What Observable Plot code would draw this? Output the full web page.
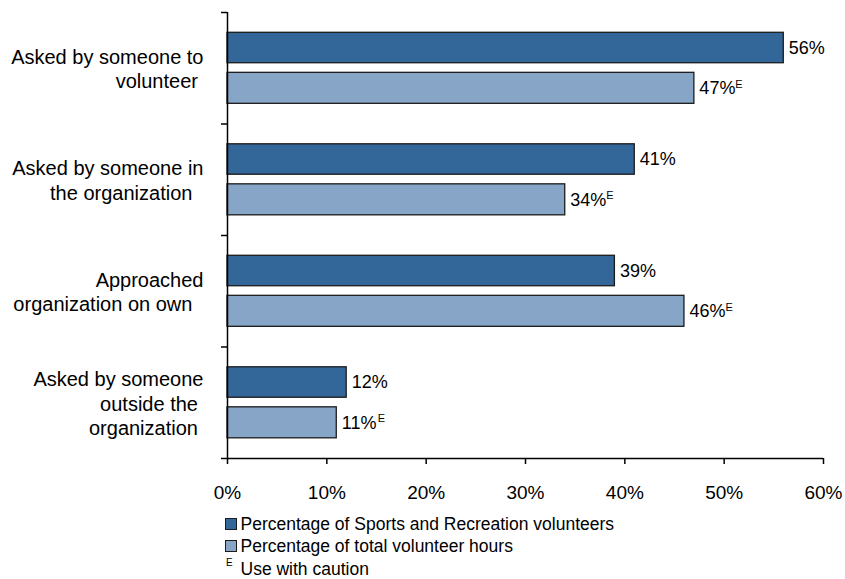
<!DOCTYPE html>
<html>
<head>
<meta charset="utf-8">
<script src="https://cdn.jsdelivr.net/npm/d3@7"></script>
<script src="https://cdn.jsdelivr.net/npm/@observablehq/plot@0.6"></script>
<style>
  html, body { margin: 0; padding: 0; background: #fff; }
  body { width: 845px; height: 579px; overflow: hidden; font-family: "Liberation Sans", Arial, sans-serif; color: #000; }
  #legend { padding: 8px 0 0 225px; font-size: 17.5px; }
  .row { height: 22px; line-height: 22px; display: flex; align-items: center; white-space: nowrap; }
  .row.note { margin-top: 2px; height: 20px; line-height: 20px; }
  .sw { width: 10px; height: 10px; border: 1px solid #1b1b1b; margin-right: 3.5px; flex: none; }
  .sup { font-size: 10px; line-height: 10px; position: relative; top: -6px; width: 15.5px; padding-left: 1px; box-sizing: border-box; display: inline-block; }
</style>
</head>
<body>
<script>
// ---- data ----
const categories = [
  "Asked by someone to volunteer",
  "Asked by someone in the organization",
  "Approached organization on own",
  "Asked by someone outside the organization"
];
const categoryLabels = [
  "Asked by someone to\nvolunteer\u00a0",
  "Asked by someone in\nthe organization\u00a0\u00a0",
  "Approached\norganization on own\u00a0\u00a0",
  "Asked by someone\noutside the\u00a0\norganization\u00a0"
];
const seriesNames = ["Percentage of Sports and Recreation volunteers", "Percentage of total volunteer hours"];
const sportsValues = [56, 41, 39, 12];
const hoursValues = [47, 34, 46, 11];
const hoursFlags = ["E", "E", "E", "E"];
const xTicks = [0, 10, 20, 30, 40, 50, 60];
const footnote = "Use with caution";

const colors = ["#336699", "#87A5C6"];

const rows = [];
categories.forEach((c, i) => {
  rows.push({index: i, category: c, series: seriesNames[0], s: 0, value: sportsValues[i], flag: ""});
  rows.push({index: i, category: c, series: seriesNames[1], s: 1, value: hoursValues[i], flag: hoursFlags[i]});
});

// position of each bar inside its category band (fractions of band)
const bandTop = [0.182, 0.541];
const bandBot = [0.455, 0.819];
const mid = d => d.index + (bandTop[d.s] + bandBot[d.s]) / 2;

const chart = Plot.plot({
  width: 845,
  height: 505,
  marginLeft: 227,
  marginRight: 22,
  marginTop: 12,
  marginBottom: 47,
  style: {fontFamily: "'Liberation Sans', Arial, sans-serif", fontSize: "18px", color: "#000", background: "#fff"},
  x: {type: "linear", domain: [0, 60], axis: null},
  y: {type: "linear", domain: [0, categories.length], reverse: true, axis: null},
  color: {domain: seriesNames, range: colors},
  marks: [
    Plot.rect(rows, {
      x1: 0,
      x2: "value",
      y1: d => d.index + bandTop[d.s],
      y2: d => d.index + bandBot[d.s],
      fill: "series",
      stroke: "#1b1b1b",
      strokeWidth: 1.3
    }),
    Plot.text(rows, {x: "value", y: mid, text: d => d.value + "%", textAnchor: "start", dx: 5, fontSize: 18}),
    Plot.text(rows.filter(d => d.flag), {x: "value", y: mid, text: "flag", textAnchor: "start", dx: 41, dy: -4, fontSize: 11}),
    Plot.axisX({ticks: xTicks, tickFormat: d => d + "%", tickSize: 6, tickPadding: 21, label: null, strokeWidth: 1.5, fontSize: 19}),
    Plot.axisY({ticks: d3.range(categories.length + 1), tickFormat: () => "", tickSize: 6, label: null, strokeWidth: 1.5}),
    Plot.axisY({ticks: categories.map((c, i) => i + 0.5), tickFormat: v => categoryLabels[Math.floor(v)], tickSize: 0, tickPadding: 24, lineHeight: 1.23, label: null, fontSize: 20}),
    Plot.ruleX([0], {stroke: "#000", strokeWidth: 1.5}),
    Plot.ruleY([categories.length], {stroke: "#000", strokeWidth: 1.5})
  ]
});
document.body.appendChild(chart);

const legend = document.createElement("div");
legend.id = "legend";
seriesNames.forEach((name, i) => {
  const r = document.createElement("div");
  r.className = "row";
  const sw = document.createElement("span");
  sw.className = "sw";
  sw.style.background = colors[i];
  r.appendChild(sw);
  r.appendChild(document.createTextNode(name));
  legend.appendChild(r);
});
const fr = document.createElement("div");
fr.className = "row note";
const sup = document.createElement("span");
sup.className = "sup";
sup.textContent = hoursFlags[0];
fr.appendChild(sup);
fr.appendChild(document.createTextNode(footnote));
legend.appendChild(fr);
document.body.appendChild(legend);
</script>
</body>
</html>
